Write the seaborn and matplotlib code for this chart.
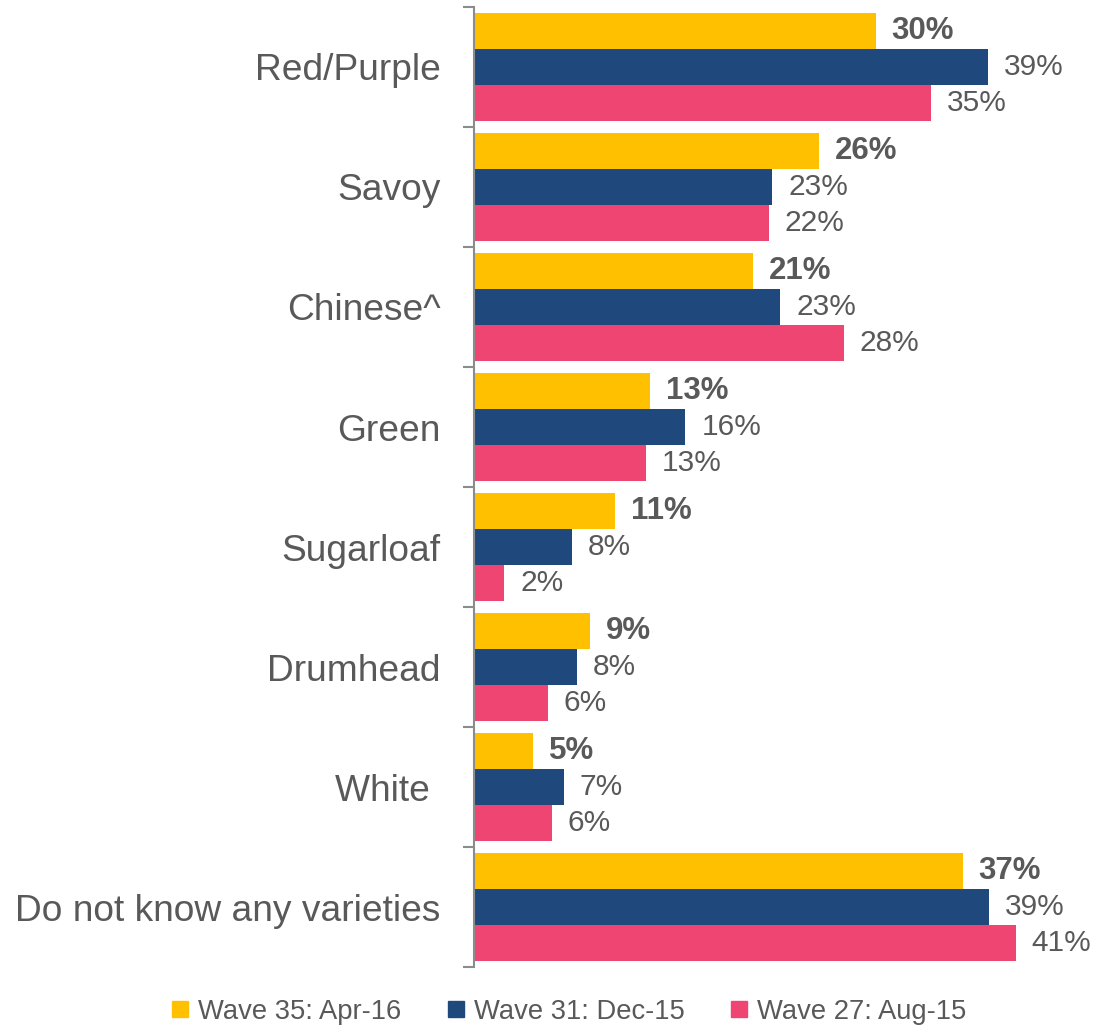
import numpy as np
import pandas as pd
import matplotlib
matplotlib.use('Agg')
import matplotlib.pyplot as plt
from matplotlib.lines import Line2D
import seaborn as sns

# 데이터 (막대 길이는 그림에서 추정, 라벨은 표기값)
varieties = ['Red/Purple', 'Savoy', 'Chinese^', 'Green', 'Sugarloaf',
             'Drumhead', 'White ', 'Do not know any varieties']
waves = ['Wave 35: Apr-16', 'Wave 31: Dec-15', 'Wave 27: Aug-15']
wave35 = [30.4, 26.1, 21.1, 13.3, 10.7, 8.8, 4.5, 37.0]
wave31 = [38.9, 22.6, 23.2, 16.0, 7.4, 7.8, 6.8, 39.0]
wave27 = [34.6, 22.3, 28.0, 13.0, 2.3, 5.6, 5.9, 41.0]
labels35 = ['30%', '26%', '21%', '13%', '11%', '9%', '5%', '37%']
labels31 = ['39%', '23%', '23%', '16%', '8%', '8%', '7%', '39%']
labels27 = ['35%', '22%', '28%', '13%', '2%', '6%', '6%', '41%']
colors = ['#FFC000', '#1F497D', '#EE4573']

df = pd.DataFrame({
    'variety': varieties * 3,
    'wave': [waves[0]] * 8 + [waves[1]] * 8 + [waves[2]] * 8,
    'value': wave35 + wave31 + wave27,
})

plt.rcParams['font.family'] = ['Liberation Sans', 'DejaVu Sans']
text_color = '#595959'

fig = plt.figure(figsize=(11.07, 10.27), dpi=100)
ax = fig.add_axes([0.4282, 0.0584, 0.5655, 0.9348])

sns.barplot(data=df, x='value', y='variety', hue='wave', order=varieties,
            hue_order=waves, palette=colors, width=0.9, saturation=1,
            linewidth=0, legend=False, ax=ax)

# 값 라벨 (첫 번째 웨이브만 굵게)
for cont, labs, bold in zip(ax.containers, [labels35, labels31, labels27],
                            [True, False, False]):
    ax.bar_label(cont, labels=labs, padding=11.5,
                 fontsize=22.5 if bold else 21.5, color=text_color,
                 fontweight='bold' if bold else 'normal')

ax.set_xlim(0, 47.4)
ax.set_ylim(7.5, -0.5)
ax.set_xlabel('')
ax.set_ylabel('')
ax.xaxis.set_visible(False)
for s in ['top', 'right', 'bottom']:
    ax.spines[s].set_visible(False)
ax.spines['left'].set_color('#8C8C8C')
ax.spines['left'].set_linewidth(1.5)

ax.set_yticks(range(len(varieties)))
ax.set_yticklabels(varieties, fontsize=26.7, color=text_color)
ax.set_yticks(np.arange(-0.5, len(varieties), 1), minor=True)
ax.tick_params(axis='y', which='major', length=0, pad=24)
ax.tick_params(axis='y', which='minor', length=8, width=1.5, color='#8C8C8C')

handles = [Line2D([], [], marker='s', linestyle='none', markersize=11,
                  markerfacecolor=c, markeredgecolor=c) for c in colors]
fig.legend(handles, waves, loc='center', bbox_to_anchor=(0.514, 0.0146),
           ncol=3, frameon=False, fontsize=19.7, labelcolor=text_color,
           handlelength=0.6, handletextpad=0.35, columnspacing=1.7,
           borderpad=0, borderaxespad=0)

fig.savefig('out.png', dpi=100)
plt.close(fig)
